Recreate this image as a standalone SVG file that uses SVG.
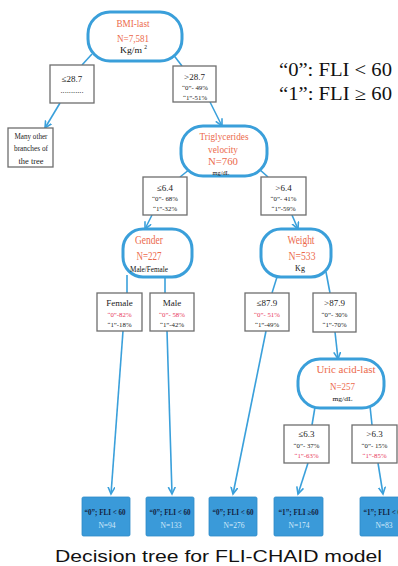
<svg xmlns="http://www.w3.org/2000/svg" width="398" height="566" viewBox="0 0 398 566">
<defs>
<style>
.node{fill:#fff;stroke:#3a9fda;stroke-width:3}
.box{fill:#fff;stroke:#6e6e6e;stroke-width:1.3}
.leaf{fill:#3a9ad9;stroke:#2f8cc8;stroke-width:0.8}
.con{fill:none;stroke:#3aa0db;stroke-width:1.6}
text{font-family:"Liberation Serif","Times New Roman",serif;text-anchor:middle}
.t{fill:#ec6a4c;font-size:11px}
.u{fill:#111;font-size:8px}
.h{fill:#222;font-size:9px}
.p{fill:#222;font-size:6.8px}
.pr{fill:#e8385a;font-size:6.8px}
.l1{fill:#13223f;font-size:7.5px;font-weight:bold}
.l2{fill:#d4eaf9;font-size:7.5px}
.lg{fill:#111;font-size:18px;text-anchor:start}
.cap{font-family:"Liberation Sans",Arial,sans-serif;fill:#111;font-size:16.5px;text-anchor:start}
</style>
<marker id="arr" markerUnits="userSpaceOnUse" markerWidth="10" markerHeight="10" refX="7" refY="4" orient="auto">
<path d="M0,0.5 L7,4 L0,7.5" fill="none" stroke="#3aa0db" stroke-width="1.6"/>
</marker>
</defs>
<rect width="398" height="566" fill="#fff"/>

<g id="connectors">
<line class="con" x1="92" y1="54" x2="82" y2="65"/>
<line class="con" x1="60" y1="103" x2="45" y2="128" marker-end="url(#arr)"/>
<line class="con" x1="172" y1="53" x2="182" y2="66"/>
<line class="con" x1="210" y1="102" x2="222" y2="126" marker-end="url(#arr)"/>
<line class="con" x1="190" y1="169" x2="180" y2="177"/>
<line class="con" x1="259" y1="169" x2="268" y2="177"/>
<line class="con" x1="152" y1="215" x2="145" y2="229" marker-end="url(#arr)"/>
<line class="con" x1="292" y1="215" x2="298" y2="229" marker-end="url(#arr)"/>
<line class="con" x1="127" y1="275" x2="127" y2="293"/>
<line class="con" x1="165" y1="277" x2="165" y2="293"/>
<line class="con" x1="277" y1="277" x2="272" y2="293"/>
<line class="con" x1="326" y1="272" x2="330" y2="293"/>
<line class="con" x1="123" y1="331" x2="111" y2="494" marker-end="url(#arr)"/>
<line class="con" x1="167" y1="331" x2="172" y2="494" marker-end="url(#arr)"/>
<line class="con" x1="266" y1="331" x2="233" y2="494" marker-end="url(#arr)"/>
<line class="con" x1="335" y1="332" x2="338" y2="359" marker-end="url(#arr)"/>
<line class="con" x1="315" y1="407" x2="312" y2="425"/>
<line class="con" x1="370" y1="406" x2="372" y2="425"/>
<line class="con" x1="308" y1="463" x2="298" y2="494" marker-end="url(#arr)"/>
<line class="con" x1="378" y1="463" x2="383" y2="494" marker-end="url(#arr)"/>
</g>

<g id="bmi">
<rect class="node" x="88" y="12" width="94" height="49" rx="22"/>
<text class="t" x="133" y="27" textLength="33" lengthAdjust="spacingAndGlyphs">BMI-last</text>
<text class="t" x="133" y="42" textLength="32" lengthAdjust="spacingAndGlyphs">N=7,581</text>
<text class="u" x="131" y="53" textLength="22" lengthAdjust="spacingAndGlyphs">Kg/m</text>
<text class="u" x="145.5" y="49" style="font-size:5.5px">2</text>
</g>

<g id="le287">
<rect class="box" x="50" y="65" width="44" height="38"/>
<text class="h" x="72" y="82">≤28.7</text>
<text class="p" x="72" y="93" textLength="23" lengthAdjust="spacingAndGlyphs">...........</text>
</g>

<g id="gt287">
<rect class="box" x="173" y="66" width="43" height="36"/>
<text class="h" x="194.5" y="80">&gt;28.7</text>
<text class="p" x="195" y="90">“0”- 49%</text>
<text class="p" x="195" y="100">“1”-51%</text>
</g>

<g id="many">
<rect class="box" x="8" y="128" width="45" height="39"/>
<text class="h" x="31" y="139" textLength="33" lengthAdjust="spacingAndGlyphs">Many other</text>
<text class="h" x="31" y="151" textLength="34" lengthAdjust="spacingAndGlyphs">branches of</text>
<text class="h" x="31" y="164" textLength="25" lengthAdjust="spacingAndGlyphs">the tree</text>
</g>

<g id="legend">
<text class="lg" x="279" y="76" textLength="113" lengthAdjust="spacingAndGlyphs">“0”: FLI &lt; 60</text>
<text class="lg" x="279" y="100" textLength="113" lengthAdjust="spacingAndGlyphs">“1”: FLI ≥ 60</text>
</g>

<g id="trig">
<rect class="node" x="181" y="126" width="86" height="50" rx="22"/>
<text class="t" x="224" y="140" style="font-size:10.5px" textLength="49" lengthAdjust="spacingAndGlyphs">Triglycerides</text>
<text class="t" x="223" y="153" style="font-size:10.5px" textLength="30" lengthAdjust="spacingAndGlyphs">velocity</text>
<text class="t" x="223" y="165" style="font-size:10.5px" textLength="30" lengthAdjust="spacingAndGlyphs">N=760</text>
<text class="u" x="221" y="175" style="font-size:7px" textLength="17" lengthAdjust="spacingAndGlyphs">mg/dL</text>
</g>

<g id="le64">
<rect class="box" x="143" y="177" width="44" height="38"/>
<text class="h" x="165" y="191">≤6.4</text>
<text class="p" x="165" y="201">“0”- 68%</text>
<text class="p" x="165" y="211">“1”-32%</text>
</g>

<g id="gt64">
<rect class="box" x="261" y="177" width="45" height="38"/>
<text class="h" x="283.5" y="191">&gt;6.4</text>
<text class="p" x="283.5" y="201">“0”- 41%</text>
<text class="p" x="283.5" y="211">“1”-59%</text>
</g>

<g id="gender">
<rect class="node" x="123" y="229" width="69" height="48" rx="20"/>
<text class="t" x="149" y="244" style="font-size:11.5px" textLength="28" lengthAdjust="spacingAndGlyphs">Gender</text>
<text class="t" x="149" y="260" style="font-size:11.5px" textLength="25" lengthAdjust="spacingAndGlyphs">N=227</text>
<text class="u" x="149" y="272" textLength="38" lengthAdjust="spacingAndGlyphs">Male/Female</text>
</g>

<g id="weight">
<rect class="node" x="261" y="229" width="70" height="48" rx="20"/>
<text class="t" x="301" y="244" style="font-size:11.5px" textLength="27" lengthAdjust="spacingAndGlyphs">Weight</text>
<text class="t" x="302" y="260" style="font-size:11.5px" textLength="27" lengthAdjust="spacingAndGlyphs">N=533</text>
<text class="u" x="300" y="271">Kg</text>
</g>

<g id="female">
<rect class="box" x="97" y="293" width="45" height="38"/>
<text class="h" x="119.5" y="306">Female</text>
<text class="pr" x="119.5" y="317">“0”-82%</text>
<text class="p" x="119.5" y="327">“1”-18%</text>
</g>

<g id="male">
<rect class="box" x="150" y="293" width="44" height="38"/>
<text class="h" x="172" y="306">Male</text>
<text class="pr" x="172" y="317">“0”- 58%</text>
<text class="p" x="172" y="327">“1”-42%</text>
</g>

<g id="le879">
<rect class="box" x="245" y="293" width="44" height="38"/>
<text class="h" x="267" y="306">≤87.9</text>
<text class="pr" x="267" y="317">“0”- 51%</text>
<text class="p" x="267" y="327">“1”-49%</text>
</g>

<g id="gt879">
<rect class="box" x="313" y="293" width="43" height="39"/>
<text class="h" x="334.5" y="306">&gt;87.9</text>
<text class="p" x="334.5" y="317">“0”- 30%</text>
<text class="p" x="334.5" y="327">“1”-70%</text>
</g>

<g id="uric">
<rect class="node" x="298" y="359" width="86" height="49" rx="22"/>
<text class="t" x="346" y="373" style="font-size:11px" textLength="59" lengthAdjust="spacingAndGlyphs">Uric acid-last</text>
<text class="t" x="342.5" y="390" style="font-size:11px" textLength="25" lengthAdjust="spacingAndGlyphs">N=257</text>
<text class="u" x="342.5" y="401" style="font-size:7px" textLength="20" lengthAdjust="spacingAndGlyphs">mg/dL</text>
</g>

<g id="le63">
<rect class="box" x="284" y="425" width="45" height="38"/>
<text class="h" x="306.5" y="437">≤6.3</text>
<text class="p" x="306.5" y="448">“0”- 37%</text>
<text class="pr" x="306.5" y="458">“1”-63%</text>
</g>

<g id="gt63">
<rect class="box" x="352" y="425" width="45" height="38"/>
<text class="h" x="374.5" y="437">&gt;6.3</text>
<text class="p" x="374.5" y="448">“0”- 15%</text>
<text class="pr" x="374.5" y="458">“1”-85%</text>
</g>

<g id="leaf1">
<rect class="leaf" x="82" y="497" width="48" height="39" rx="1.5"/>
<text class="l1" x="105" y="515" textLength="41" lengthAdjust="spacingAndGlyphs">“0”; FLI &lt; 60</text>
<text class="l2" x="107" y="528">N=94</text>
</g>
<g id="leaf2">
<rect class="leaf" x="146" y="497" width="48" height="39" rx="1.5"/>
<text class="l1" x="170" y="515" textLength="41" lengthAdjust="spacingAndGlyphs">“0”; FLI &lt; 60</text>
<text class="l2" x="171" y="528">N=133</text>
</g>
<g id="leaf3">
<rect class="leaf" x="209" y="497" width="48" height="39" rx="1.5"/>
<text class="l1" x="233" y="515" textLength="41" lengthAdjust="spacingAndGlyphs">“0”; FLI &lt; 60</text>
<text class="l2" x="234" y="528">N=276</text>
</g>
<g id="leaf4">
<rect class="leaf" x="274" y="497" width="49" height="39" rx="1.5"/>
<text class="l1" x="298.5" y="515" textLength="40" lengthAdjust="spacingAndGlyphs">“1”; FLI ≥60</text>
<text class="l2" x="299" y="528">N=174</text>
</g>
<g id="leaf5">
<rect class="leaf" x="360" y="497" width="48" height="39" rx="1.5"/>
<text class="l1" x="384" y="515" textLength="41" lengthAdjust="spacingAndGlyphs">“1”; FLI &lt; 60</text>
<text class="l2" x="384" y="528">N=83</text>
</g>

<text class="cap" x="55" y="562" textLength="327" lengthAdjust="spacingAndGlyphs">Decision tree for FLI-CHAID model</text>
</svg>
